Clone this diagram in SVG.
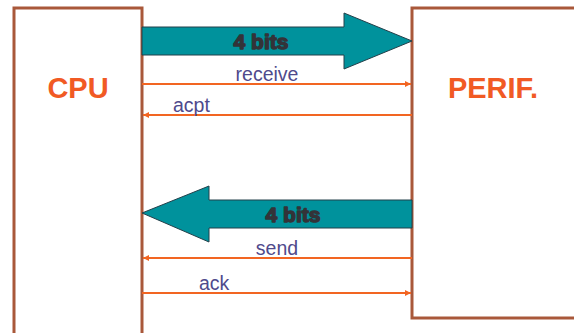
<svg xmlns="http://www.w3.org/2000/svg" width="574" height="333" viewBox="0 0 574 333">
  <style>
    .box { fill: #ffffff; stroke: #A9583A; stroke-width: 3; }
    .title { font-family: "Liberation Sans", Arial, sans-serif; font-weight: bold; font-size: 29px; fill: #F15A24; text-anchor: middle; }
    .bus { fill: #00929C; stroke: #23404A; stroke-width: 1; }
    .buslabel { font-family: "Liberation Sans", Arial, sans-serif; font-weight: bold; font-size: 21px; fill: #333338; text-anchor: middle; stroke: #333338; stroke-width: 1.4; stroke-linejoin: round; }
    .sig { stroke: #F26522; stroke-width: 2; fill: none; }
    .siglabel { font-family: "Liberation Sans", Arial, sans-serif; font-size: 19.5px; fill: #4F4A8C; }
  </style>
  <defs>
    <marker id="head" viewBox="0 0 10 10" refX="10" refY="5" markerWidth="6" markerHeight="6" orient="auto-start-reverse" markerUnits="userSpaceOnUse">
      <path d="M0,0 L10,5 L0,10 z" fill="#F26522"/>
    </marker>
  </defs>

  <g id="cpu">
    <rect class="box" x="14" y="8" width="128" height="330"/>
    <text class="title" x="78" y="98">CPU</text>
  </g>

  <g id="perif">
    <rect class="box" x="412" y="8" width="164" height="310"/>
    <text class="title" x="493" y="98">PERIF.</text>
  </g>

  <g id="connectors">
    <!-- 4-bit bus, CPU to peripheral -->
    <path class="bus" d="M142,27 L344,27 L344,13 L412,41 L344,69 L344,55 L142,55 z"/>
    <text class="buslabel" x="261" y="49">4 bits</text>

    <line class="sig" x1="142" y1="84" x2="411" y2="84" marker-end="url(#head)"/>
    <text class="siglabel" x="267" y="81" text-anchor="middle">receive</text>

    <line class="sig" x1="412" y1="115" x2="143" y2="115" marker-end="url(#head)"/>
    <text class="siglabel" x="173" y="112">acpt</text>

    <!-- 4-bit bus, peripheral to CPU -->
    <path class="bus" d="M412,200 L209,200 L209,186 L142,213 L209,242 L209,228 L412,228 z"/>
    <text class="buslabel" x="293" y="222">4 bits</text>

    <line class="sig" x1="412" y1="258" x2="143" y2="258" marker-end="url(#head)"/>
    <text class="siglabel" x="277" y="255" text-anchor="middle">send</text>

    <line class="sig" x1="142" y1="293" x2="411" y2="293" marker-end="url(#head)"/>
    <text class="siglabel" x="199" y="290">ack</text>
  </g>
</svg>
